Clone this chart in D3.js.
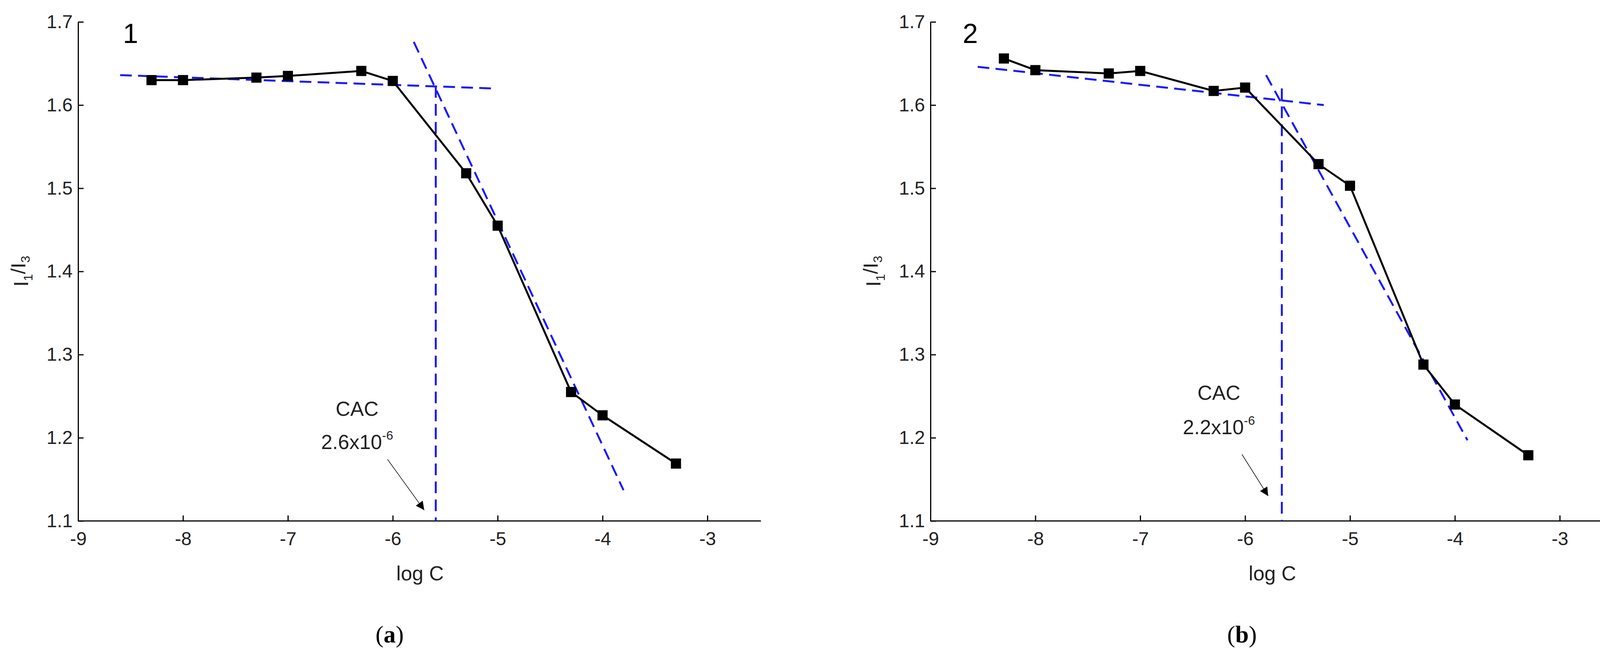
<!DOCTYPE html>
<html><head><meta charset="utf-8">
<script src="https://cdn.jsdelivr.net/npm/d3@7"></script>
<style>body{margin:0;background:#fff}</style></head>
<body><svg id="c" width="4134" height="1676"></svg>
<script>
const logC = [-8.3,-8,-7.3,-7,-6.3,-6,-5.3,-5,-4.3,-4,-3.3];
const ratioA = [1.630,1.630,1.633,1.635,1.641,1.629,1.518,1.455,1.255,1.227,1.169];
const ratioB = [1.656,1.642,1.638,1.641,1.617,1.621,1.529,1.503,1.288,1.240,1.179];
const xTicks = [-9,-8,-7,-6,-5,-4,-3];
const yTicks = [1.1,1.2,1.3,1.4,1.5,1.6,1.7];
const fitA = [[[-8.6,1.636],[-5.05,1.620]],[[-5.8,1.676],[-3.8,1.137]],[[-5.59,1.623],[-5.59,1.1]]];
const fitB = [[[-8.55,1.646],[-5.25,1.600]],[[-5.8,1.636],[-3.88,1.197]],[[-5.65,1.620],[-5.65,1.1]]];
const panels = [
 {left:200, ratio:ratioA, fit:fitA, num:"1", numX:-8.5, cac:"2.6", cacPos:[-6.34,1.235,1.195], arrow:[[-6.05,1.174],[-5.70,1.113]], sub:"a"},
 {left:2382, ratio:ratioB, fit:fitB, num:"2", numX:-8.62, cac:"2.2", cacPos:[-6.25,1.254,1.213], arrow:[[-6.03,1.180],[-5.78,1.130]], sub:"b"}
];
const svg = d3.select("#c");
svg.append("defs").append("marker").attr("id","ah").attr("viewBox","0 0 10 10").attr("refX",10).attr("refY",5)
 .attr("markerWidth",22).attr("markerHeight",22).attr("markerUnits","userSpaceOnUse").attr("orient","auto")
 .append("path").attr("d","M0,0L10,5L0,10z").attr("fill","#000");
const font = "'Liberation Sans', Arial, sans-serif";
panels.forEach(p=>{
  const x = d3.scaleLinear().domain([-9,-3]).range([p.left,p.left+1611]);
  const y = d3.scaleLinear().domain([1.1,1.7]).range([1333,56]);
  const g = svg.append("g");
  const xa = g.append("g").attr("transform","translate(0,1333)")
    .call(d3.axisBottom(x).tickValues(xTicks).tickFormat(d=>String(d)).tickSizeInner(-14).tickSizeOuter(0).tickPadding(28));
  xa.select(".domain").attr("d",`M${p.left},0H${x(-2.49)}`);
  const ya = g.append("g").attr("transform",`translate(${p.left},0)`)
    .call(d3.axisLeft(y).tickValues(yTicks).tickFormat(d3.format(".1f")).tickSizeInner(-14).tickSizeOuter(0).tickPadding(14));
  [xa,ya].forEach(a=>{a.selectAll("path,line").attr("stroke","#000").attr("stroke-width",3);
    a.selectAll("text").attr("font-family",font).attr("font-size",48).attr("fill","#222");});
  g.selectAll(".fit").data(p.fit).enter().append("path")
    .attr("d",d=>d3.line().x(e=>x(e[0])).y(e=>y(e[1]))(d))
    .attr("stroke","#1a1aff").attr("stroke-width",5).attr("stroke-dasharray","30,16").attr("fill","none");
  const pts = logC.map((v,i)=>[v,p.ratio[i]]);
  g.append("path").attr("d",d3.line().x(d=>x(d[0])).y(d=>y(d[1]))(pts))
    .attr("stroke","#000").attr("stroke-width",5).attr("fill","none");
  g.selectAll(".pt").data(pts).enter().append("rect")
    .attr("x",d=>x(d[0])-13).attr("y",d=>y(d[1])-13).attr("width",26).attr("height",26).attr("fill","#000");
  g.append("text").attr("x",x(p.numX)).attr("y",y(1.686)).attr("dy","0.35em")
    .attr("text-anchor","middle").attr("font-family",font).attr("font-size",70).text(p.num);
  g.append("text").attr("x",x(p.cacPos[0])).attr("y",y(p.cacPos[1])).attr("dy","0.35em")
    .attr("text-anchor","middle").attr("font-family",font).attr("font-size",52).attr("fill","#222").text("CAC");
  const t = g.append("text").attr("x",x(p.cacPos[0])).attr("y",y(p.cacPos[2])).attr("dy","0.35em")
    .attr("text-anchor","middle").attr("font-family",font).attr("font-size",52).attr("fill","#222");
  t.append("tspan").text(p.cac+"x10");
  t.append("tspan").attr("dy","-0.75em").attr("font-size",32).text("-6");
  g.append("line").attr("x1",x(p.arrow[0][0])).attr("y1",y(p.arrow[0][1])).attr("x2",x(p.arrow[1][0])).attr("y2",y(p.arrow[1][1]))
    .attr("stroke","#000").attr("stroke-width",1.5).attr("marker-end","url(#ah)");
  const yl = g.append("text").attr("transform",`translate(${p.left-128},694) rotate(-90)`)
    .attr("text-anchor","middle").attr("font-family",font).attr("font-size",52).attr("fill","#222");
  yl.append("tspan").text("I");
  yl.append("tspan").attr("font-size",32).attr("dy","0.35em").text("1");
  yl.append("tspan").attr("dy","-0.35em").text("/I");
  yl.append("tspan").attr("font-size",32).attr("dy","0.35em").text("3");
  g.append("text").attr("x",x(-5.74)).attr("y",1467).attr("dy","0.35em").attr("text-anchor","middle")
    .attr("font-family",font).attr("font-size",52).attr("fill","#222").text("log C");
  const s = g.append("text").attr("x",x(-6.03)).attr("y",1622).attr("dy","0.35em").attr("text-anchor","middle")
    .attr("font-family","'Liberation Serif', serif").attr("font-size",62);
  s.append("tspan").text("(");
  s.append("tspan").attr("font-weight","bold").text(p.sub);
  s.append("tspan").text(")");
});
</script></body></html>
